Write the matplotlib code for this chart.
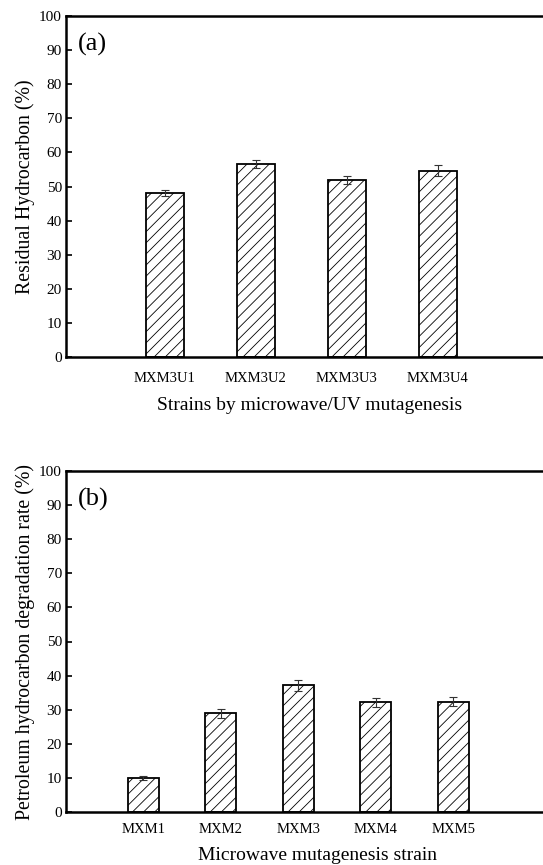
import matplotlib
matplotlib.use("Agg")
import matplotlib.pyplot as plt
import numpy as np

plt.rcParams['font.family'] = ['Liberation Serif', 'DejaVu Serif']
plt.rcParams['hatch.linewidth'] = 0.6
plt.rcParams['hatch.color'] = '#222222'

# Panel (a)
cats_a = ["MXM3U1", "MXM3U2", "MXM3U3", "MXM3U4"]
vals_a = [48.1, 56.7, 51.9, 54.6]
errs_a = [0.8, 1.2, 1.2, 1.6]

# Panel (b)
cats_b = ["MXM1", "MXM2", "MXM3", "MXM4", "MXM5"]
vals_b = [9.9, 28.9, 37.1, 32.2, 32.4]
errs_b = [0.6, 1.3, 1.5, 1.3, 1.4]

W, H = 543, 865
fig = plt.figure(figsize=(W / 100, H / 100), dpi=100)

def px_axes(left, top, right, bottom):
    return fig.add_axes([left / W, 1 - bottom / H, (right - left) / W, (bottom - top) / H])

def style(ax, cats, vals, errs, width, xlim, label, ylab, xlab, xpad, xlabpad, xlab_x):
    x = np.arange(len(cats))
    ax.bar(x, vals, width=width, color='white', edgecolor='black', linewidth=1.3,
           hatch='///', zorder=2)
    ax.errorbar(x, vals, yerr=errs, fmt='none', ecolor='#333333', elinewidth=0.8,
                capsize=3, capthick=0.8, zorder=3)
    ax.set_xlim(*xlim)
    ax.set_ylim(0, 100)
    ax.set_yticks(np.arange(0, 101, 10))
    ax.set_xticks(x)
    ax.set_xticklabels(cats)
    ax.spines['right'].set_visible(False)
    for s in ['left', 'top', 'bottom']:
        ax.spines[s].set_linewidth(1.8)
    ax.tick_params(axis='y', direction='in', length=4, width=1.2, labelsize=11, pad=3)
    ax.tick_params(axis='x', direction='in', length=4, width=1.8, labelsize=10.5, pad=xpad)
    ax.set_ylabel(ylab, fontsize=14.3, labelpad=3)
    ax.set_xlabel(xlab, fontsize=14, labelpad=xlabpad)
    ax.xaxis.label.set_x(xlab_x)
    ax.text(0.025, 0.95, label, transform=ax.transAxes, fontsize=19, va='top', ha='left')

ax1 = px_axes(66, 16, 543, 357)
style(ax1, cats_a, vals_a, errs_a, 0.42, (-1.09, 4.16), "(a)",
      "Residual Hydrocarbon (%)", "Strains by microwave/UV mutagenesis",
      11, 8.5, (310 - 66) / 477)

ax2 = px_axes(66, 471, 543, 812)
style(ax2, cats_b, vals_b, errs_b, 0.40, (-1.0, 5.16), "(b)",
      "Petroleum hydrocarbon degradation rate (%)", "Microwave mutagenesis strain",
      8, 8, (318 - 66) / 477)

fig.savefig("out.png", dpi=100)
